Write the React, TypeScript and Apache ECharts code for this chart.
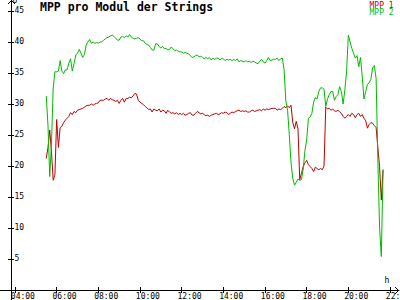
import React, { useEffect, useRef } from 'react';
import * as echarts from 'echarts';

const TITLE = 'MPP pro Modul der Strings';
const SERIES_NAMES = ['MPP 1', 'MPP 2'];
const SERIES_COLORS = ['#c00000', '#00bb00'];
const START_TIME = '05:30';
const STEP_MINUTES = 5;

// MPP 1 (red), 5-minute samples from 05:30 to 21:40
const mpp1 = [
  21.2, 23.0, 25.8, 22.3, 17.7, 18.6,
  27.5, 23.0, 26.2, 26.4, 27.0, 27.4, 27.7, 28.0, 28.6, 28.3, 28.8, 28.6,
  29.0, 29.1, 29.2, 29.3, 29.5, 29.7, 29.8, 29.8, 30.0, 29.8, 30.0, 30.1,
  30.2, 30.6, 30.6, 30.6, 30.8, 30.9, 30.6, 30.9, 30.7, 30.6, 30.4, 30.6,
  30.1, 30.6, 30.9, 30.3, 30.9, 30.9, 31.1, 31.0, 31.3, 31.7, 31.6, 30.6,
  30.3, 30.1, 29.9, 29.6, 29.4, 29.1, 29.2, 28.7, 29.2, 29.0, 28.9, 29.2,
  28.7, 29.0, 28.9, 28.5, 29.0, 28.7, 28.5, 28.6, 28.4, 28.6, 28.3, 28.5,
  28.3, 28.5, 28.2, 28.3, 28.5, 28.6, 28.2, 28.2, 28.5, 28.8, 28.6, 28.4,
  28.5, 28.3, 28.1, 28.2, 28.0, 28.2, 28.3, 28.4, 28.5, 28.3, 28.4, 28.6,
  28.5, 28.7, 28.6, 28.3, 28.5, 28.7, 28.6, 28.8, 28.9, 29.0, 28.8, 28.9,
  28.8, 28.9, 28.7, 28.7, 28.9, 29.0, 28.8, 28.9, 29.0, 29.1, 28.9, 29.2,
  29.0, 29.2, 29.1, 29.2, 29.3, 29.3, 29.3, 29.0, 29.2, 29.1, 29.3, 29.6,
  29.4, 29.7, 29.4, 29.8, 27.0, 26.0, 27.2, 26.0, 17.8, 18.8, 19.9, 20.5,
  20.9, 20.2, 19.9, 19.6, 19.1, 19.8, 19.6, 19.4, 19.6, 19.4, 20.0, 29.5,
  29.2, 29.3, 29.0, 29.2, 28.9, 28.8, 29.0, 28.7, 28.5, 28.0, 27.7, 28.0,
  28.3, 28.0, 28.5, 28.3, 27.8, 28.3, 28.5, 28.0, 28.3, 27.7, 27.3, 26.1,
  26.7, 27.0, 26.9, 26.5, 26.2, 23.0, 19.9, 14.5, 19.4,
];

// MPP 2 (green), same time grid
const mpp2 = [
  31.3, 26.5, 18.3, 23.5, 32.6, 35.2,
  35.2, 35.3, 37.0, 35.3, 34.9, 35.5, 35.5, 36.6, 37.3, 35.3, 36.5, 37.9,
  38.2, 38.8, 38.2, 37.5, 38.0, 39.5, 40.0, 40.4, 39.8, 40.0, 39.8, 39.9,
  39.8, 40.0, 40.0, 40.3, 40.5, 40.7, 40.8, 41.0, 41.1, 40.9, 40.6, 40.3,
  40.3, 40.8, 40.9, 40.7, 41.0, 40.8, 41.2, 40.8, 40.6, 40.5, 40.6, 40.7,
  40.5, 40.2, 40.2, 39.8, 39.6, 39.5, 39.1, 38.7, 38.7, 39.7, 39.7, 39.3,
  39.0, 39.3, 38.9, 39.0, 38.7, 38.8, 39.2, 38.9, 38.6, 38.7, 38.5, 38.4,
  38.4, 38.2, 38.3, 38.2, 38.1, 37.8, 37.5, 37.6, 37.8, 37.9, 37.6, 37.7,
  37.5, 37.3, 37.5, 37.3, 37.5, 37.1, 37.4, 37.2, 37.4, 37.4, 37.1, 37.3,
  37.3, 37.0, 37.2, 37.1, 37.2, 37.0, 37.2, 37.0, 37.3, 36.8, 37.0, 36.9,
  36.8, 37.0, 36.8, 36.9, 36.7, 36.9, 36.8, 36.6, 36.5, 36.9, 37.2, 36.8,
  36.6, 37.0, 37.5, 37.0, 37.1, 37.2, 37.2, 37.4, 37.0, 37.3, 37.4, 35.5,
  30.5, 29.0, 25.0, 20.5, 18.0, 16.9, 17.4, 17.9, 17.7, 17.8, 19.5, 22.5,
  24.2, 27.7, 27.9, 28.5, 30.3, 31.0, 30.8, 32.0, 32.6, 32.6, 32.4, 29.6,
  30.8, 31.5, 32.0, 32.0, 30.6, 31.2, 31.5, 32.8, 32.0, 30.0, 32.3, 35.3,
  41.1, 40.0, 39.0, 38.2, 37.4, 37.8, 36.0, 37.5, 34.5, 30.8, 32.0, 33.2,
  33.4, 34.0, 35.8, 36.2, 34.1, 21.0, 10.0, 5.4, 19.4,
];

const Y_TICKS = [5, 10, 15, 20, 25, 30, 35, 40, 45];
const X_TICK_HOURS = [4, 6, 8, 10, 12, 14, 16, 18, 20, 22];

const FONT = 'DejaVu Sans Mono';
const X_MIN = 3.28;
const X_MAX = 22.432;
const Y_MIN = 0;
const Y_MAX = 46.774;
const LABEL_SHIFT = 0.2;

function toHours(s: string): number {
  const [h, m] = s.split(':').map(Number);
  return h + m / 60;
}

function pad(n: number): string {
  return (n < 10 ? '0' : '') + n;
}

export default function App() {
  const ref = useRef<HTMLDivElement>(null);

  useEffect(() => {
    if (!ref.current) return;
    const chart = echarts.init(ref.current, null, { renderer: 'svg', width: 400, height: 300 });
    const t0 = toHours(START_TIME);
    const times = mpp1.map((_, i) => t0 + (i * STEP_MINUTES) / 60);
    const seriesData = [mpp1, mpp2];

    const xBase = {
      type: 'value' as const,
      min: X_MIN,
      max: X_MAX,
      position: 'bottom' as const,
      splitLine: { show: false },
    };
    const yBase = {
      type: 'value' as const,
      min: Y_MIN,
      max: Y_MAX,
      position: 'left' as const,
      offset: -11,
      splitLine: { show: false },
    };

    chart.setOption({
      animation: false,
      backgroundColor: '#ffffff',
      grid: { left: 0, right: 1, top: 0, bottom: 10, containLabel: false, outerBoundsMode: 'none' },
      xAxis: [
        {
          ...xBase,
          axisLine: { show: true, onZero: false, lineStyle: { color: '#000', width: 1 } },
          axisTick: { show: true, inside: false, length: 3, customValues: X_TICK_HOURS, lineStyle: { color: '#000', width: 1 } },
          axisLabel: {
            show: true,
            customValues: X_TICK_HOURS.map((h) => h - LABEL_SHIFT),
            formatter: (v: number) => pad(Math.round(v + LABEL_SHIFT)) + ':00',
            align: 'left',
            margin: 2,
            fontFamily: FONT,
            fontSize: 8,
            color: '#000',
          },
        },
        {
          ...xBase,
          axisLine: { show: false, onZero: false },
          axisTick: { show: true, inside: true, length: 3, customValues: X_TICK_HOURS, lineStyle: { color: '#000', width: 1 } },
          axisLabel: { show: false },
        },
      ],
      yAxis: [
        {
          ...yBase,
          axisLine: { show: true, lineStyle: { color: '#000', width: 1 } },
          axisTick: { show: true, inside: false, length: 3, customValues: Y_TICKS, lineStyle: { color: '#000', width: 1 } },
          axisLabel: {
            show: true,
            inside: true,
            customValues: Y_TICKS,
            margin: 3.5,
            fontFamily: FONT,
            fontSize: 8,
            color: '#000',
          },
        },
        {
          ...yBase,
          axisLine: { show: false },
          axisTick: { show: true, inside: true, length: 3, customValues: Y_TICKS, lineStyle: { color: '#000', width: 1 } },
          axisLabel: { show: false },
        },
      ],
      graphic: [
        {
          type: 'text',
          left: 40,
          top: 1,
          style: { text: TITLE, fontFamily: FONT, fontWeight: 'bold', fontSize: 11.5, fill: '#000' },
        },
        ...SERIES_NAMES.map((name, i) => ({
          type: 'text',
          left: 369.5,
          top: 1 + i * 7.7,
          style: { text: name, fontFamily: FONT, fontSize: 8, fill: SERIES_COLORS[i] },
        })),
        {
          type: 'text',
          left: 12.5,
          top: -4,
          style: { text: 'U', fontFamily: FONT, fontSize: 8, fill: '#000' },
        },
        {
          type: 'text',
          left: 384.5,
          top: 276.5,
          style: { text: 'h', fontFamily: FONT, fontSize: 8, fill: '#000' },
        },
        {
          type: 'line',
          shape: { x1: 11.5, y1: 290, x2: 11.5, y2: 300 },
          style: { stroke: '#000', lineWidth: 1 },
        },
        {
          type: 'polyline',
          shape: { points: [[8, 4], [11.5, 0.5], [15, 4]] },
          style: { stroke: '#000', lineWidth: 1, fill: 'none' },
        },
        {
          type: 'polyline',
          shape: { points: [[395, 287], [398.5, 290.5], [395, 294]] },
          style: { stroke: '#000', lineWidth: 1, fill: 'none' },
        },
      ],
      series: SERIES_NAMES.map((name, i) => ({
        name,
        type: 'line',
        xAxisIndex: 0,
        yAxisIndex: 0,
        data: times.map((t, j) => [t, seriesData[i][j]]),
        symbol: 'none',
        showSymbol: false,
        lineStyle: { color: SERIES_COLORS[i], width: 1 },
        itemStyle: { color: SERIES_COLORS[i] },
      })),
    });

    return () => chart.dispose();
  }, []);

  return (
    <div
      ref={ref}
      style={{ position: 'fixed', left: 0, top: 0, width: 400, height: 300, background: '#ffffff' }}
    />
  );
}
